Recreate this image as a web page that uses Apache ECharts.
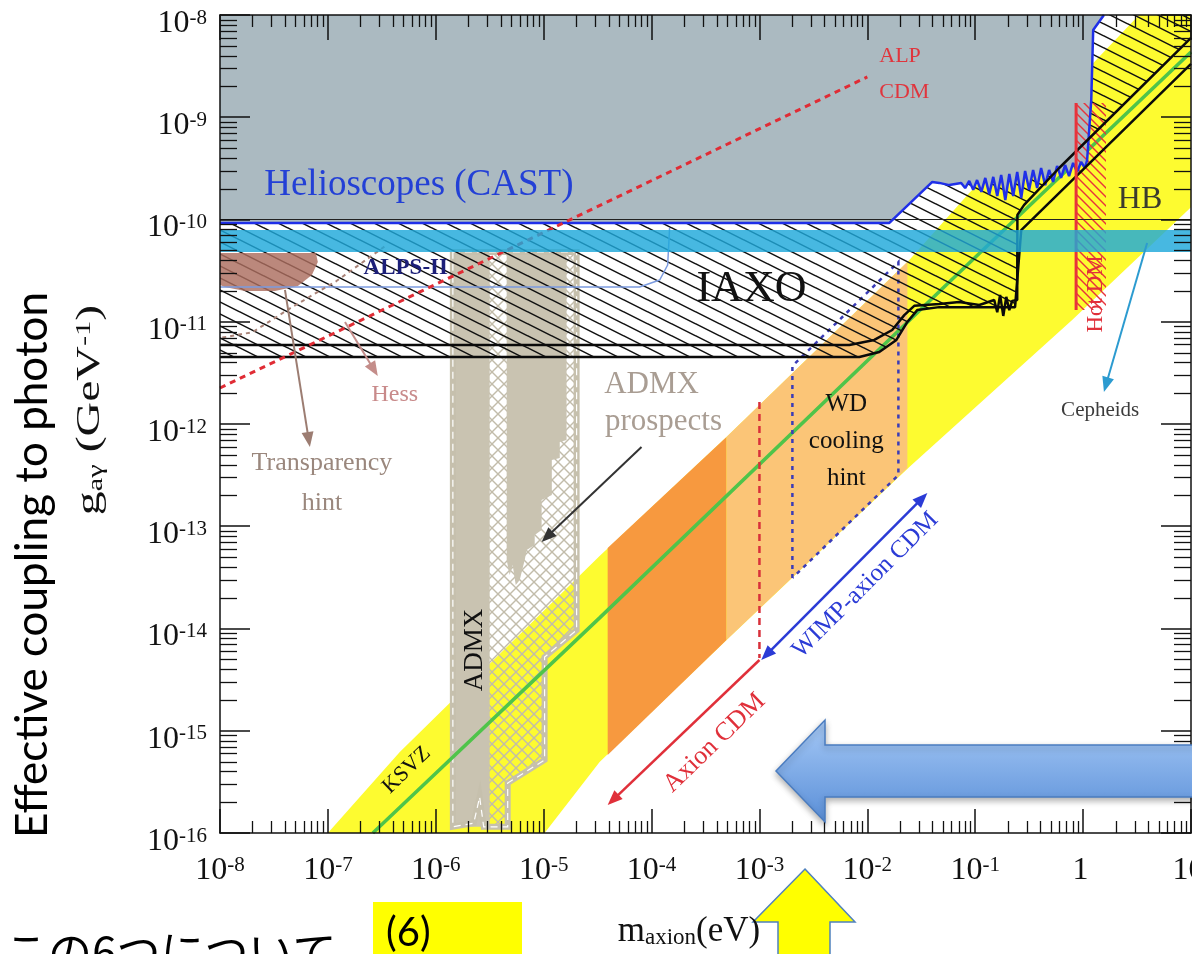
<!DOCTYPE html>
<html>
<head>
<meta charset="utf-8">
<script src="https://cdn.jsdelivr.net/npm/echarts@6.0.0/dist/echarts.min.js"></script>
<style>
html,body{margin:0;padding:0;background:#fff;overflow:hidden;}
#c{width:1192px;height:954px;}
</style>
</head>
<body>
<div id="c"></div>
<script>
// ================= DATA (m_axion in eV, g_a-gamma in GeV^-1) =================
const X_TICK_TEXT = ['10^-8','10^-7','10^-6','10^-5','10^-4','10^-3','10^-2','10^-1','1','10'];
const Y_TICK_TEXT = ['10^-16','10^-15','10^-14','10^-13','10^-12','10^-11','10^-10','10^-9','10^-8'];

// Helioscope (CAST) limit (noisy part)
const CAST_LIMIT = [
  [1e-8, 9.25e-11], [1.60e-2, 9.25e-11], [4.00e-2, 2.33e-10], [4.64e-2, 2.28e-10], [5.75e-2, 2.17e-10],
  [7.41e-2, 2.28e-10], [8.07e-2, 2.03e-10], [8.80e-2, 2.38e-10], [9.58e-2, 1.95e-10], [0.104, 2.43e-10],
  [0.114, 1.86e-10], [0.124, 2.55e-10], [0.135, 1.77e-10], [0.147, 2.61e-10], [0.160, 1.70e-10],
  [0.174, 2.72e-10], [0.190, 1.55e-10], [0.207, 2.79e-10], [0.225, 1.70e-10], [0.245, 2.92e-10],
  [0.267, 1.62e-10], [0.290, 2.98e-10], [0.316, 1.95e-10], [0.344, 3.05e-10], [0.375, 2.03e-10],
  [0.408, 3.19e-10], [0.445, 2.17e-10], [0.484, 3.05e-10], [0.527, 2.33e-10], [0.574, 3.34e-10],
  [0.625, 2.55e-10], [0.681, 3.41e-10], [0.741, 2.66e-10], [0.808, 3.57e-10], [0.880, 2.92e-10],
  [0.958, 3.65e-10], [1.04, 3.19e-10], [1.09, 3.82e-10], [1.19, 1.48e-9], [1.24, 7.13e-9], [1.56, 1e-8]
];
const HB_LIMIT = [[1e-8, 1e-10], [10, 1e-10]];
const CEPHEIDS_BAND = [4.81e-11, 7.89e-11];

// IAXO sensitivity curves
const IAXO_LINE = [
  [1e-8, 5.93e-12], [6.81e-3, 5.93e-12], [1.16e-2, 6.64e-12], [1.70e-2, 8.30e-12], [2.20e-2, 1.16e-11],
  [2.72e-2, 1.43e-11], [4.64e-2, 1.49e-11], [7.11e-2, 1.56e-11], [0.109, 1.46e-11], [0.150, 1.63e-11],
  [0.160, 1.24e-11], [0.170, 1.83e-11], [0.182, 1.14e-11], [0.194, 1.75e-11], [0.207, 1.30e-11],
  [0.220, 1.60e-11], [0.245, 1.63e-11], [0.246, 1.11e-10], [0.284, 1.39e-10], [0.600, 3.19e-10], [10, 5.96e-9]
];
const IAXO_PLUS_LINE = [
  [1e-8, 4.52e-12], [8.44e-3, 4.52e-12], [1.29e-2, 5.06e-12], [1.86e-2, 6.64e-12], [2.35e-2, 9.95e-12],
  [2.90e-2, 1.30e-11], [4.64e-2, 1.39e-11], [0.234, 1.39e-11], [0.267, 7.89e-11], [10, 3.32e-9]
];
const IAXO_LOWER_EDGE = [
  [10, 5.96e-9], [0.600, 3.19e-10], [0.284, 1.39e-10], [0.246, 1.11e-10], [0.245, 1.63e-11],
  [0.234, 1.39e-11], [4.64e-2, 1.39e-11], [2.90e-2, 1.30e-11], [2.35e-2, 9.95e-12], [1.86e-2, 6.64e-12],
  [1.29e-2, 5.06e-12], [8.44e-3, 4.52e-12], [1e-8, 4.52e-12]
];

// QCD axion band, KSVZ line
const AXION_BAND = [
  [1e-7, 1e-16], [4.64e-7, 6.19e-16], [3.30e-5, 5.12e-14], [4.95e-4, 7.46e-13], [2.45e-2, 4.02e-11],
  [8.80e-2, 1.82e-10], [3.30, 1e-8], [10, 1e-8], [10, 1.32e-10], [0.791, 1.04e-11], [2.45e-2, 3.79e-13],
  [4.95e-4, 7.73e-15], [3.30e-5, 4.94e-16], [1.02e-5, 1e-16]
];
const KSVZ = [[2.61e-7, 1e-16], [3.30e-5, 1.27e-14], [5.75e-2, 2.45e-11], [10, 4.35e-9]];
const AXION_CDM_REGION = [[3.92e-5, 6.12e-14], [4.95e-4, 7.46e-13], [4.95e-4, 7.73e-15], [3.92e-5, 5.79e-16]];
const WIMP_AXION_REGION = [[4.95e-4, 7.46e-13], [2.35e-2, 3.84e-11], [2.35e-2, 3.71e-13], [4.95e-4, 7.73e-15]];
const WD_HINT = [[2.02e-3, 3.12e-14], [2.02e-3, 3.69e-12], [1.94e-2, 3.84e-11], [1.94e-2, 3.17e-13]];
const AXION_CDM_EDGE = [[1e-3, 1.64e-12], [1e-3, 5.14e-15]];

// ALPs and others
const ALP_CDM = [[1e-8, 2.25e-12], [1e-2, 2.48e-9]];
const ALPS_II = [[1e-8, 2.19e-11], [7.74e-5, 2.19e-11], [1.19e-4, 2.56e-11], [1.41e-4, 3.59e-11], [1.47e-4, 8.26e-11]];
const TRANSPARENCY = [
  [1e-8, 4.70e-11], [7.74e-8, 4.70e-11], [8.07e-8, 3.84e-11], [7.11e-8, 2.86e-11], [5.27e-8, 2.24e-11],
  [3.23e-8, 2.00e-11], [1.70e-8, 2.00e-11], [1.11e-8, 2.19e-11], [1e-8, 2.29e-11]
];
const HESS_EDGE = [[1.05e-8, 7.0e-12], [2.0e-8, 7.9e-12], [4.7e-8, 1.4e-11], [1.2e-7, 2.5e-11], [3.4e-7, 5.5e-11]];
const HOT_DM_EDGE = [[0.861, 1.38e-9], [0.861, 1.30e-11]];
const HOT_DM_REGION = [[0.861, 1.38e-9], [1.63, 1.38e-9], [1.63, 1.30e-11], [0.861, 1.30e-11]];

// ADMX
const ADMX_COLUMN = [[1.44e-6, 4.81e-11], [3.16e-6, 4.81e-11], [3.16e-6, 1.15e-16], [1.44e-6, 1.15e-16]];
const ADMX_EXCLUDED = [
  [4.54e-6, 4.81e-11], [1.63e-5, 4.81e-11], [1.63e-5, 6.97e-13], [1.41e-5, 6.67e-13], [1.41e-5, 4.65e-13],
  [1.19e-5, 4.45e-13], [1.19e-5, 2.02e-13], [9.57e-6, 1.81e-13], [9.57e-6, 9.18e-14], [8.26e-6, 8.21e-14],
  [8.26e-6, 6.56e-14], [6.96e-6, 5.86e-14], [6.67e-6, 4.68e-14], [6.00e-6, 2.98e-14], [5.51e-6, 2.66e-14],
  [5.16e-6, 4.18e-14], [4.84e-6, 3.33e-14], [4.54e-6, 4.68e-14]
];
const ADMX_PROSPECTS = [
  [1.44e-6, 4.81e-11], [2.02e-5, 4.81e-11], [2.02e-5, 9.66e-15], [1.02e-5, 5.26e-15], [1.02e-5, 5.18e-16],
  [4.64e-6, 3.08e-16], [4.64e-6, 1.15e-16], [2.78e-6, 1.15e-16], [2.55e-6, 2.25e-16], [2.25e-6, 1.25e-16],
  [1.44e-6, 1.15e-16]
];

// Arrows [from, to]
const ARROW_AXION_CDM = [[1e-3, 4.92e-15], [3.92e-5, 1.88e-16]];
const ARROW_WIMP = [[1.04e-3, 4.92e-15], [3.60e-2, 2.11e-13]];
const ARROW_ADMX = [[8.07e-5, 5.96e-13], [9.57e-6, 7.02e-14]];
const ARROW_TRANSPARENCY = [[4.0e-8, 2.05e-11], [6.81e-8, 5.96e-13]];
const ARROW_HESS = [[1.44e-7, 9.95e-12], [2.90e-7, 2.94e-12]];
const ARROW_CEPHEIDS = [[3.92, 5.89e-11], [1.56, 2.06e-12]];

// ================= RENDERING =================
const SERIF = "'Liberation Serif','DejaVu Serif',serif";

function makePattern(w, h, color, lw, segs) {
  const c = document.createElement('canvas');
  c.width = w; c.height = h;
  const ctx = c.getContext('2d');
  ctx.strokeStyle = color; ctx.lineWidth = lw; ctx.lineCap = 'square';
  segs.forEach(s => { ctx.beginPath(); ctx.moveTo(s[0], s[1]); ctx.lineTo(s[2], s[3]); ctx.stroke(); });
  return { image: c, repeat: 'repeat' };
}
const hatchIAXO = makePattern(24, 12, '#111', 1.5, [[0,-12,24,0],[0,0,24,12],[0,12,24,24]]);
const hatchHot = makePattern(9, 9, '#e8333b', 1.4, [[0,-9,9,0],[0,0,9,9],[0,9,9,18]]);
const crossADMX = makePattern(12, 12, '#c2bcaa', 1.4, [[0,0,12,12],[-12,0,12,24],[0,-12,24,12],[0,12,12,0],[-12,12,12,-12],[0,24,24,0]]);

function polySeries(data, style, z) {
  return {
    type: 'custom', coordinateSystem: 'cartesian2d', z: z, silent: true, animation: false,
    data: data,
    renderItem: function (params, api) {
      if (params.dataIndex !== 0) return null;
      return { type: 'polygon', shape: { points: data.map(p => api.coord(p)) }, style: style };
    }
  };
}
function polylineSeries(data, style, z) {
  return {
    type: 'custom', coordinateSystem: 'cartesian2d', z: z, silent: true, animation: false,
    data: data,
    renderItem: function (params, api) {
      if (params.dataIndex !== 0) return null;
      return { type: 'polyline', shape: { points: data.map(p => api.coord(p)) }, style: Object.assign({ fill: null }, style) };
    }
  };
}
function lineSeries(data, lineStyle, z) {
  return { type: 'line', data: data, symbol: 'none', z: z, silent: true, animation: false, lineStyle: lineStyle };
}
function arrowSeries(pts, color, width, both, z) {
  return {
    type: 'custom', coordinateSystem: 'cartesian2d', z: z, silent: true, animation: false,
    data: pts,
    renderItem: function (params, api) {
      if (params.dataIndex !== 0) return null;
      const a = api.coord(pts[0]), b = api.coord(pts[1]);
      const head = (p, q) => {
        const ang = Math.atan2(p[1] - q[1], p[0] - q[0]);
        const L = 15, W = 6;
        const bx = p[0] - L * Math.cos(ang), by = p[1] - L * Math.sin(ang);
        return { type: 'polygon', shape: { points: [p, [bx + W * Math.sin(ang), by - W * Math.cos(ang)], [bx - W * Math.sin(ang), by + W * Math.cos(ang)]] }, style: { fill: color } };
      };
      const ang = Math.atan2(b[1] - a[1], b[0] - a[0]);
      const b2 = [b[0] - 10 * Math.cos(ang), b[1] - 10 * Math.sin(ang)];
      const a2 = both ? [a[0] + 10 * Math.cos(ang), a[1] + 10 * Math.sin(ang)] : a;
      const ch = [{ type: 'line', shape: { x1: a2[0], y1: a2[1], x2: b2[0], y2: b2[1] }, style: { stroke: color, lineWidth: width } }, head(b, a)];
      if (both) ch.push(head(a, b));
      return { type: 'group', children: ch };
    }
  };
}

const annotations = [
  { text: 'Helioscopes (CAST)', at: [6.97e-7, 2.17e-10], size: 37, color: '#2340d6' },
  { text: 'IAXO', at: [8.43e-4, 2.05e-11], size: 44, color: '#111' },
  { text: 'ALPS-II', at: [5.27e-7, 3.36e-11], size: 23, color: '#1c1f78', weight: 'bold' },
  { text: 'ALP', at: [1.29e-2, 3.97e-9], size: 22, color: '#e0353d', align: 'left' },
  { text: 'CDM', at: [1.29e-2, 1.77e-9], size: 22, color: '#e0353d', align: 'left' },
  { text: 'HB', at: [3.37, 1.55e-10], size: 32, color: '#3b3b2e' },
  { text: 'Cepheids', at: [1.44, 1.37e-12], size: 21, color: '#3c3c3c' },
  { text: 'Hess', at: [4.17e-7, 1.92e-12], size: 24, color: '#c88a8a' },
  { text: 'Transparency', at: [8.80e-8, 4.16e-13], size: 26, color: '#9a877d' },
  { text: 'hint', at: [8.80e-8, 1.69e-13], size: 26, color: '#9a877d' },
  { text: 'ADMX', at: [1e-4, 2.41e-12], size: 31, color: '#a99d93' },
  { text: 'prospects', at: [1.29e-4, 1.05e-12], size: 31, color: '#a99d93' },
  { text: 'WD', at: [6.39e-3, 1.57e-12], size: 25, color: '#111' },
  { text: 'cooling', at: [6.39e-3, 6.82e-13], size: 25, color: '#111' },
  { text: 'hint', at: [6.39e-3, 2.96e-13], size: 25, color: '#111' },
  { text: 'ADMX', at: [2.30e-6, 6.17e-15], size: 27, color: '#111', rot: 90 },
  { text: 'KSVZ', at: [5.38e-7, 4.13e-16], size: 22, color: '#111', rot: 44 },
  { text: 'Axion CDM', at: [3.83e-4, 7.59e-16], size: 26, color: '#e0303a', rot: 44 },
  { text: 'WIMP-axion CDM', at: [9.57e-3, 2.66e-14], size: 25, color: '#2b3bd6', rot: 45 },
  { text: 'Hot DM', at: [1.32, 1.87e-11], size: 23, color: '#e0303a', rot: 90 }
];

const tickRich = {
  b: { fontSize: 32, lineHeight: 32, fontFamily: SERIF, color: '#111', verticalAlign: 'bottom' },
  s: { fontSize: 21, lineHeight: 21, fontFamily: SERIF, color: '#111', verticalAlign: 'top', padding: [0, 0, 14, 0] }
};
function tickFmt(table, offset) {
  return function (v) {
    const e = Math.round(Math.log10(v));
    const t = table[e + offset];
    if (t === undefined) return '';
    const parts = t.split('^');
    return parts.length > 1 ? '{b|' + parts[0] + '}{s|' + parts[1] + '}' : '{b|' + t + '}{s| }';
  };
}

const axisCommon = {
  type: 'log', logBase: 10, z: 100,
  axisLine: { show: true, onZero: false, lineStyle: { color: '#111', width: 1.5 } },
  splitLine: { show: false }, minorTick: { show: false }, minorSplitLine: { show: false }
};

const series = [
  polySeries(AXION_BAND, { fill: '#fdfb30' }, 2),
  polySeries(AXION_CDM_REGION, { fill: '#f7993f' }, 3),
  polySeries(WIMP_AXION_REGION, { fill: '#fbc577' }, 3),
  polySeries(ADMX_PROSPECTS, { fill: crossADMX }, 4),
  polySeries(ADMX_COLUMN, { fill: '#c9c3b1' }, 4),
  polySeries(ADMX_EXCLUDED, { fill: '#c9c3b1' }, 4),
  polylineSeries(ADMX_PROSPECTS.concat([ADMX_PROSPECTS[0]]), { stroke: '#c6c0ad', lineWidth: 6 }, 4),
  polylineSeries(ADMX_PROSPECTS.concat([ADMX_PROSPECTS[0]]), { stroke: '#ffffff', lineWidth: 1.2, lineDash: [7, 5] }, 4),
  lineSeries(KSVZ, { color: '#4fc44a', width: 3.5 }, 5),
  polylineSeries(WD_HINT.concat([WD_HINT[0]]), { stroke: '#3a3cb8', lineWidth: 2.5, lineDash: [4, 5] }, 6),
  lineSeries(AXION_CDM_EDGE, { color: '#d8303a', width: 2.5, type: [7, 5] }, 6),
  polySeries(CAST_LIMIT.concat([[10, 1e-8]], IAXO_LOWER_EDGE), { fill: hatchIAXO }, 7),
  polySeries(CAST_LIMIT.concat([[1e-8, 1e-8]]), { fill: '#abbac1' }, 8),
  lineSeries(HB_LIMIT, { color: '#222', width: 1.2 }, 10),
  lineSeries(CAST_LIMIT, { color: '#1f2fe8', width: 2.5 }, 10),
  lineSeries(IAXO_LINE, { color: '#0a0a0a', width: 2.5 }, 10),
  lineSeries(IAXO_PLUS_LINE, { color: '#0a0a0a', width: 2.5 }, 10),
  lineSeries(ALPS_II, { color: '#7b9be0', width: 1.5 }, 10),
  polySeries(TRANSPARENCY, { fill: 'rgba(172,110,95,0.82)' }, 10),
  lineSeries(HESS_EDGE, { color: '#a98378', width: 2, type: [4, 4] }, 10),
  polySeries(HOT_DM_REGION, { fill: hatchHot }, 10),
  lineSeries(HOT_DM_EDGE, { color: '#e8333b', width: 3 }, 10),
  lineSeries(ALP_CDM, { color: '#e02c35', width: 3, type: [6, 5] }, 11),
  {
    type: 'custom', coordinateSystem: 'cartesian2d', z: 12, silent: true, animation: false,
    data: [[1e-8, CEPHEIDS_BAND[0]]],
    renderItem: function (params, api) {
      const lo = api.coord([1e-8, CEPHEIDS_BAND[0]]), hi = api.coord([10, CEPHEIDS_BAND[1]]);
      return { type: 'rect', shape: { x: lo[0], y: hi[1], width: hi[0] - lo[0], height: lo[1] - hi[1] }, style: { fill: 'rgba(30,168,218,0.82)' } };
    }
  },
  arrowSeries(ARROW_AXION_CDM, '#e0303a', 2.5, false, 13),
  arrowSeries(ARROW_WIMP, '#2b3bd6', 2.5, true, 13),
  arrowSeries(ARROW_ADMX, '#333333', 2, false, 13),
  arrowSeries(ARROW_TRANSPARENCY, '#9c7d72', 2, false, 13),
  arrowSeries(ARROW_HESS, '#c48d8a', 2, false, 13),
  arrowSeries(ARROW_CEPHEIDS, '#2c9bd0', 2, false, 13),
  {
    type: 'custom', coordinateSystem: 'cartesian2d', z: 14, silent: true, animation: false,
    data: annotations.map(a => a.at),
    renderItem: function (params, api) {
      const a = annotations[params.dataIndex];
      const p = api.coord(a.at);
      return {
        type: 'text', x: p[0], y: p[1], rotation: (a.rot || 0) * Math.PI / 180,
        style: { text: a.text, fill: a.color, fontSize: a.size, fontFamily: SERIF, fontWeight: a.weight || 'normal',
                 align: a.align || 'center', verticalAlign: 'middle' }
      };
    }
  },
  {
    // minor ticks of the log axes (2..9 x 10^k), on all four sides
    type: 'custom', coordinateSystem: 'cartesian2d', z: 100, silent: true, animation: false,
    data: [[1e-8, 1e-16]],
    renderItem: function (params, api) {
      const bl = api.coord([1e-8, 1e-16]), tr = api.coord([10, 1e-8]);
      const L = bl[0], B = bl[1], R = tr[0], T = tr[1];
      const st = { stroke: '#111', lineWidth: 1.3 };
      const ch = [];
      for (let e = -8; e < 1; e++) for (let k = 2; k < 10; k++) {
        const x = Math.round(api.coord([k * Math.pow(10, e), 1e-16])[0]) + 0.5;
        ch.push({ type: 'line', shape: { x1: x, y1: B, x2: x, y2: B - 12 }, style: st });
        ch.push({ type: 'line', shape: { x1: x, y1: T, x2: x, y2: T + 12 }, style: st });
      }
      for (let e = -16; e < -8; e++) for (let k = 2; k < 10; k++) {
        const y = Math.round(api.coord([1e-8, k * Math.pow(10, e)])[1]) + 0.5;
        ch.push({ type: 'line', shape: { x1: L, y1: y, x2: L + 17, y2: y }, style: st });
        ch.push({ type: 'line', shape: { x1: R, y1: y, x2: R - 17, y2: y }, style: st });
      }
      return { type: 'group', children: ch };
    }
  }
];

const option = {
  animation: false,
  backgroundColor: '#ffffff',
  grid: { left: 220, right: 1, top: 15, bottom: 121, containLabel: false, outerBoundsMode: 'none' },
  xAxis: [
    Object.assign({}, axisCommon, {
      min: 1e-8, max: 10, position: 'bottom',
      axisTick: { show: true, inside: true, length: 24, lineStyle: { color: '#111', width: 1.5 } },
      axisLabel: { show: true, margin: 22, formatter: tickFmt(X_TICK_TEXT, 8), rich: tickRich, showMinLabel: true, showMaxLabel: true }
    }),
    Object.assign({}, axisCommon, {
      min: 1e-8, max: 10, position: 'top',
      axisTick: { show: true, inside: true, length: 25, lineStyle: { color: '#111', width: 1.5 } },
      axisLabel: { show: false }
    })
  ],
  yAxis: [
    Object.assign({}, axisCommon, {
      min: 1e-16, max: 1e-8, position: 'left',
      axisTick: { show: true, inside: true, length: 30, lineStyle: { color: '#111', width: 1.5 } },
      axisLabel: { show: true, margin: 13, padding: [17, 0, 0, 0], formatter: tickFmt(Y_TICK_TEXT, 16), rich: tickRich, showMinLabel: true, showMaxLabel: true }
    }),
    Object.assign({}, axisCommon, {
      min: 1e-16, max: 1e-8, position: 'right',
      axisTick: { show: true, inside: true, length: 30, lineStyle: { color: '#111', width: 1.5 } },
      axisLabel: { show: false }
    })
  ],
  series: series,
  graphic: { elements: [
    { type: 'text', x: 33, y: 565, rotation: Math.PI / 2, z: 200,
      style: { text: 'Effective coupling to photon', fontSize: 44, fontFamily: 'Lato', fill: '#000', align: 'center', verticalAlign: 'middle' } },
    { type: 'text', x: 90, y: 410, rotation: Math.PI / 2, scaleX: 1.45, z: 200,
      style: { text: '{n|g}{sub|aγ}{n| (GeV}{sup|-1}{n|)}', align: 'center', verticalAlign: 'middle',
        rich: {
          n: { fontSize: 33, lineHeight: 33, fontFamily: SERIF, fill: '#111', padding: [7, 0, 7, 0] },
          sub: { fontSize: 21, lineHeight: 21, fontFamily: SERIF, fill: '#111', verticalAlign: 'bottom' },
          sup: { fontSize: 21, lineHeight: 21, fontFamily: SERIF, fill: '#111', verticalAlign: 'top' }
        } } },
    { type: 'polygon', z: 200, shape: { points: [[805, 869], [855, 922], [830, 922], [830, 960], [778, 960], [778, 922], [753, 922]] },
      style: { fill: '#ffff00', stroke: '#4f81bd', lineWidth: 1.5 } },
    { type: 'text', x: 689, y: 932, z: 201,
      style: { text: '{n|m}{sub|axion}{n|(eV)}', align: 'center', verticalAlign: 'middle',
        rich: {
          n: { fontSize: 35, lineHeight: 35, fontFamily: SERIF, fill: '#111', padding: [6, 0, 6, 0] },
          sub: { fontSize: 23, lineHeight: 23, fontFamily: SERIF, fill: '#111', verticalAlign: 'bottom' }
        } } },
    { type: 'polygon', z: 202, shape: { points: [[776, 771], [825, 720], [825, 745], [1200, 745], [1200, 797], [825, 797], [825, 822]] },
      style: { fill: new echarts.graphic.LinearGradient(0, 0, 0, 1, [{ offset: 0, color: '#a6c9f6' }, { offset: 1, color: '#5a8fd8' }]),
               stroke: '#4a7cc0', lineWidth: 1.5, shadowBlur: 6, shadowColor: 'rgba(0,0,0,0.3)', shadowOffsetY: 3 } },
    { type: 'rect', z: 200, shape: { x: 373, y: 902, width: 149, height: 60 }, style: { fill: '#ffff00' } },
    { type: 'text', x: 386, y: 913, z: 201,
      style: { text: '(6)', fontSize: 40, fontFamily: 'Lato', fill: '#000', align: 'left', verticalAlign: 'top' } },
    { type: 'text', x: 4, y: 930, z: 201,
      style: { text: 'この6つについて', fontSize: 44, fontFamily: "'Noto Sans CJK JP'", fill: '#000', align: 'left', verticalAlign: 'top' } }
  ] }
};

const chart = echarts.init(document.getElementById('c'), null, { renderer: 'canvas', width: 1192, height: 954 });
chart.setOption(option);
</script>
</body>
</html>
